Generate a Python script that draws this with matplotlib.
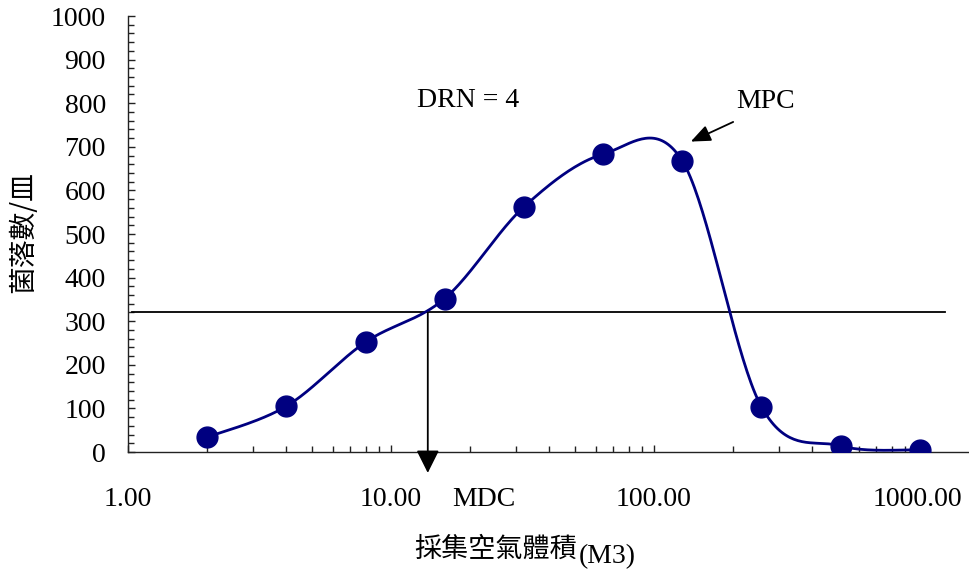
import matplotlib
matplotlib.use("Agg")
import matplotlib.pyplot as plt
import numpy as np
from matplotlib.ticker import FixedLocator, MultipleLocator, FuncFormatter

# air volume (M3) vs colony count per plate
volume = [2, 4, 8, 16, 32, 64, 128, 256, 512, 1024]
colonies = [34, 105, 252, 352, 562, 683, 668, 104, 14, 5]

drn_level = 320      # horizontal reference line
mdc_volume = 13.8    # where the curve crosses the line
mpc_volume = 128

x_ticks = [1, 10, 100, 1000]

serif = "Liberation Serif"
cjk = "Noto Sans CJK TC"
navy = "#000080"


def smooth(xs, ys, n=40):
    # Catmull-Rom through the points, worked out in log10(x)
    u = np.log10(xs)
    p = np.column_stack([u, ys]).astype(float)
    p = np.vstack([p[0], p, p[-1]])
    out = []
    for i in range(1, len(p) - 2):
        p0, p1, p2, p3 = p[i - 1], p[i], p[i + 1], p[i + 2]
        c1 = p1 + (p2 - p0) / 6.0
        c2 = p2 - (p3 - p1) / 6.0
        t = np.linspace(0, 1, n)[:, None]
        seg = ((1 - t) ** 3) * p1 + 3 * ((1 - t) ** 2) * t * c1 \
            + 3 * (1 - t) * t ** 2 * c2 + t ** 3 * p2
        out.append(seg if i == 1 else seg[1:])
    out = np.vstack(out)
    return 10 ** out[:, 0], out[:, 1]


fig = plt.figure(figsize=(9.69, 5.75), dpi=100)
ax = fig.add_axes([128 / 969, 123 / 575, 841 / 969, 436 / 575])

ax.set_xscale("log")
ax.set_xlim(1, 10 ** (841 / 263))
ax.set_ylim(0, 1000)

sx, sy = smooth(volume, colonies)
ax.plot(sx, sy, color=navy, lw=2.0, zorder=3)
ax.plot(volume, colonies, "o", color=navy, ms=15, mec=navy, zorder=4)

# detection reference line and the MDC arrow down to the axis
ax.plot([1.036, 1277], [drn_level, drn_level], color="black", lw=1.3, zorder=2)
ax.annotate("", xy=(mdc_volume, -48), xytext=(mdc_volume, drn_level),
            arrowprops=dict(arrowstyle="-|>,head_length=14,head_width=7",
                            mutation_scale=1, color="black", lw=1.3,
                            shrinkA=0, shrinkB=0),
            annotation_clip=False)

# MPC pointer
ax.annotate("", xy=(138, 712), xytext=(200, 757),
            arrowprops=dict(arrowstyle="-|>,head_length=12,head_width=5",
                            mutation_scale=1, color="black", lw=1.3,
                            shrinkA=0, shrinkB=0))

ax.text(19.6, 791, "DRN = 4", fontsize=20, family=serif, ha="center", va="baseline")
ax.text(266, 789, "MPC", fontsize=20, family=serif, ha="center", va="baseline")
ax.text(22.6, -124, "MDC", fontsize=20, family=serif, ha="center", va="baseline",
        clip_on=False)

for s in ["top", "right"]:
    ax.spines[s].set_visible(False)
for s in ["left", "bottom"]:
    ax.spines[s].set_linewidth(1.0)
    ax.spines[s].set_color("#222222")

ax.xaxis.set_major_locator(FixedLocator(x_ticks))
ax.xaxis.set_major_formatter(FuncFormatter(lambda v, pos: f"{v:.2f}"))
ax.xaxis.set_minor_locator(matplotlib.ticker.LogLocator(base=10, subs=np.arange(2, 10)))
ax.xaxis.set_minor_formatter(matplotlib.ticker.NullFormatter())
ax.yaxis.set_major_locator(MultipleLocator(100))
ax.yaxis.set_minor_locator(MultipleLocator(20))

ax.tick_params(axis="x", which="major", direction="in", length=5, width=1.0, pad=25,
               labelsize=20, color="#222222")
ax.tick_params(axis="x", which="minor", direction="in", length=4, width=1.0, color="#222222")
ax.tick_params(axis="y", which="major", direction="in", length=5, width=1.0, pad=16,
               labelsize=20, color="#222222")
ax.tick_params(axis="y", which="minor", direction="in", length=4.5, width=1.0, color="#222222")
for lab in ax.get_xticklabels() + ax.get_yticklabels():
    lab.set_family(serif)

fig.text(23 / 969, 1 - 232 / 575, "菌落數/皿", family=cjk, fontsize=20,
         rotation=90, ha="center", va="center")
fig.text(577 / 969, 1 - 557 / 575, "採集空氣體積", family=cjk, fontsize=19.5,
         ha="right", va="baseline")
fig.text(579 / 969, 1 - 563 / 575, "(M3)", family=serif, fontsize=20,
         ha="left", va="baseline")

fig.savefig("out.png", dpi=100)
